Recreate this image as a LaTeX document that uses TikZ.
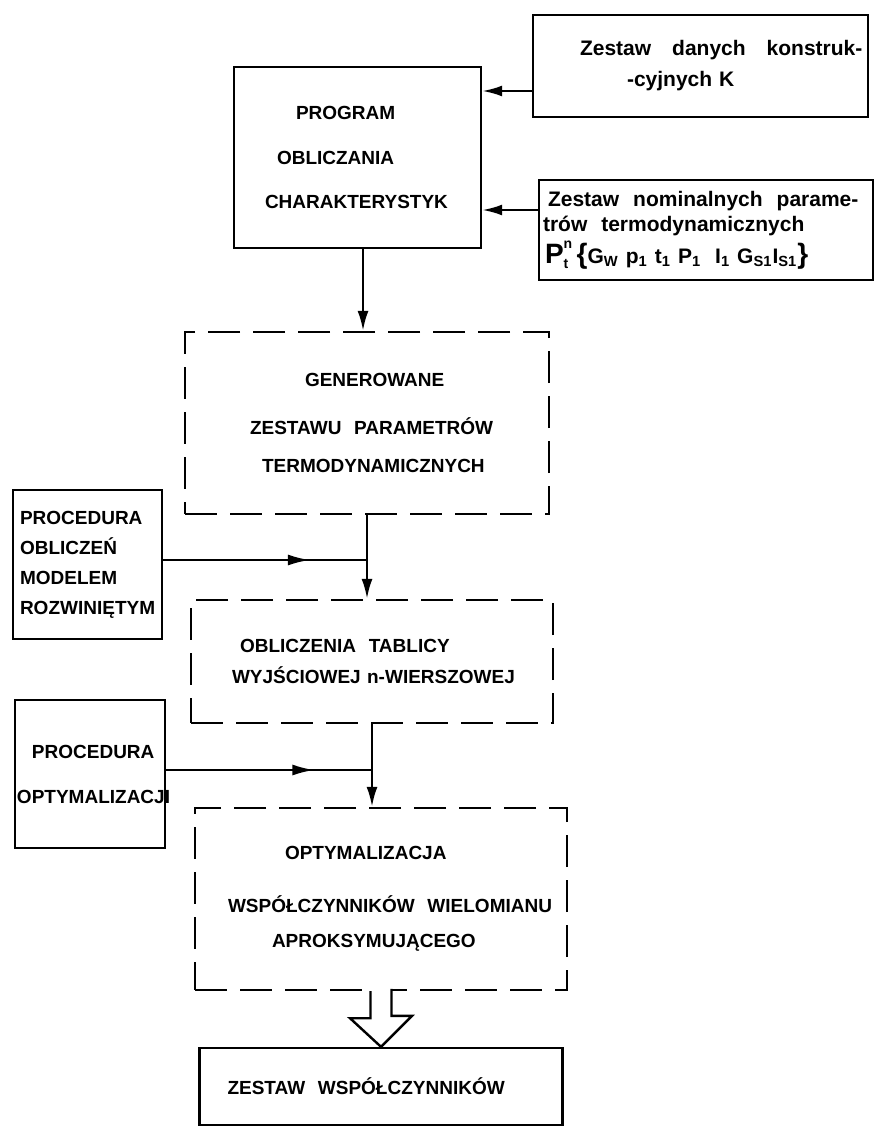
\documentclass[tikz,border=0pt]{standalone}
\usepackage{fontspec}
\setmainfont{Liberation Sans}
\usetikzlibrary{arrows.meta,decorations.markings}
\tikzset{
  blok/.style={draw,line width=1.2pt,inner xsep=0pt,inner ysep=0pt,align=left,
    font=\fontsize{9.5}{11.5}\selectfont\bfseries},
  kreski/.style={blok,dash pattern=on 16pt off 6.5pt},
  maly/.style={font=\fontsize{10.5}{12.5}\selectfont\bfseries},
  strz/.style={line width=1.2pt,-{Latex[length=10pt,width=5.5pt]}},
  strzsr/.style={line width=1.2pt,postaction={decorate},
    decoration={markings,mark=at position 0.72 with {\arrow{Latex[length=11pt,width=5.5pt]}}}}
}
\newcommand{\duzy}[1]{{\fontsize{14}{14}\selectfont #1}}
\begin{document}
\begin{tikzpicture}[x=0.5pt,y=-0.5pt]
  \useasboundingbox (0,0) rectangle (876,1145);

  \node[blok,text width=123.5pt,minimum height=90.5pt] (prog) at (357.5,157.5)
    {\hspace*{31pt}PROGRAM\\[11pt]\hspace*{21.5pt}OBLICZANIA\\[10.5pt]\hspace*{15.5pt}CHARAKTERYSTYK};
  \node[blok,maly,text width=167.5pt,minimum height=51pt] (konstr) at (700.5,66)
    {\hspace*{23.5pt}Zestaw\ \ \ danych\ \ \ konstruk-\\[3pt]\hspace*{47pt}-cyjnych K};
  \node[blok,maly,text width=167pt,minimum height=50pt] (nomin) at (706,230)
    {\hspace*{4.5pt}Zestaw\ \ nominalnych\ \ parame-\\\hspace*{2pt}trów\ \ termodynamicznych\\[2pt]
     \hspace*{3pt}$\hbox{\duzy{P}}^{\hbox{\scriptsize\bfseries n}}_{\hbox{\scriptsize\bfseries t}}$\,\duzy{\{}G\textsubscript{W}\ p\textsubscript{1}\ 
     t\textsubscript{1}\ P\textsubscript{1}\ \ I\textsubscript{1}\ G\textsubscript{S1}I\textsubscript{S1}\duzy{\}}};

  \node[kreski,text width=182pt,minimum height=91pt] (gener) at (367,423)
    {\hspace*{60pt}GENEROWANE\\[12.5pt]\hspace*{32.5pt}ZESTAWU\ \ PARAMETRÓW\\[7.5pt]\hspace*{38.5pt}TERMODYNAMICZNYCH};
  \node[blok,text width=74.5pt,minimum height=74.5pt] (procobl) at (87.5,564.5)
    {\hspace*{3.5pt}PROCEDURA\\[3.5pt]\hspace*{3.5pt}OBLICZEŃ\\[3.5pt]\hspace*{3.5pt}MODELEM\\[3.5pt]\hspace*{3.5pt}ROZWINIĘTYM};
  \node[kreski,text width=181pt,minimum height=61.5pt] (tabl) at (372,661.5)
    {\hspace*{24.5pt}OBLICZENIA\ \ TABLICY\\[4pt]\hspace*{20.5pt}WYJŚCIOWEJ n-WIERSZOWEJ};
  \node[blok,text width=75pt,minimum height=74pt] (procopt) at (90,774)
    {\hspace*{8.5pt}PROCEDURA\\[11pt]\hspace*{1pt}\mbox{OPTYMALIZACJI}};
  \node[kreski,text width=186pt,minimum height=91pt] (optym) at (381,899)
    {\hspace*{45pt}OPTYMALIZACJA\\[15pt]\hspace*{16.5pt}WSPÓŁCZYNNIKÓW\ \ WIELOMIANU\\[6pt]\hspace*{38.5pt}APROKSYMUJĄCEGO};
  \node[blok,text width=181.5pt,minimum height=38.5pt] (wsp) at (381,1086.5)
    {\hspace*{14pt}ZESTAW\ \ WSPÓŁCZYNNIKÓW};

  \coordinate (k1) at ([yshift=-12.5pt]konstr.west);
  \coordinate (n1) at ([yshift=10pt]nomin.west);
  \coordinate (p1) at ([xshift=2.75pt]prog.south);
  \coordinate (j1) at (367,560);
  \coordinate (j2) at (372,770);
  \draw[strz] (k1) -- (k1 -| prog.east);
  \draw[strz] (n1) -- (n1 -| prog.east);
  \draw[strz] (p1) -- (p1 |- gener.north);
  \draw[strz] (gener.south) -- (gener.south |- tabl.north);
  \draw[strzsr] (procobl.east |- j1) -- (j1);
  \draw[strz] (tabl.south) -- (tabl.south |- optym.north);
  \draw[strzsr] (procopt.east |- j2) -- (j2);

  \fill[white] (optym.south) ++(-10.5,-2) rectangle ++(21,29);
  \draw[line width=1.2pt,line join=miter] (optym.south) ++(-10.5,0) -- ++(0,27) -- ++(-20.5,0) -- (wsp.north)
    -- ++(31,-31) -- ++(-20.5,0) -- ++(0,-27);
\end{tikzpicture}
\end{document}
